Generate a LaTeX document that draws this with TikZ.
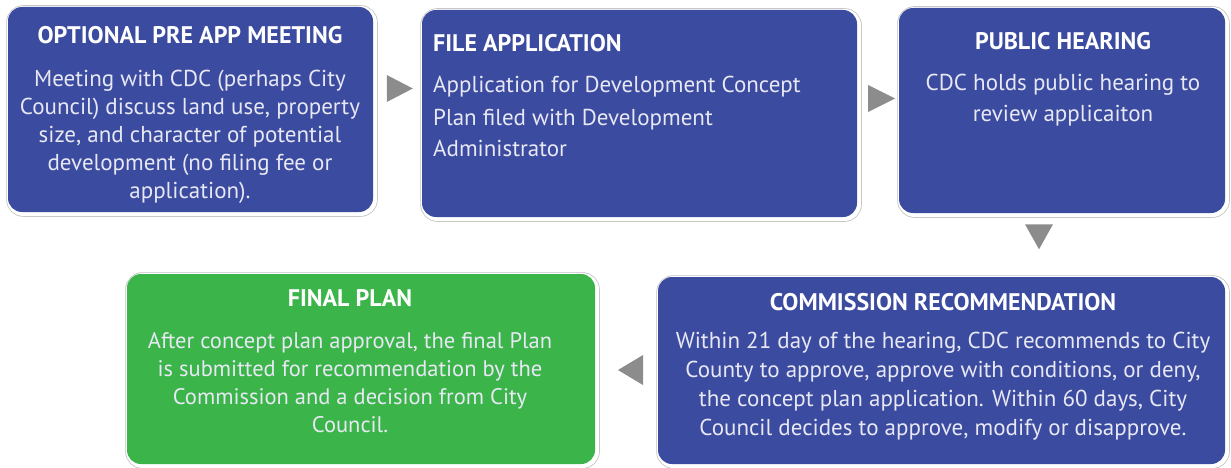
\documentclass[tikz,border=0pt]{standalone}
\usepackage{fontspec}
\setmainfont{PT Sans}
\usetikzlibrary{shapes.geometric}
\definecolor{boxblue}{RGB}{59,75,160}
\definecolor{boxgreen}{RGB}{59,181,74}
\definecolor{arrgray}{RGB}{140,140,140}
\definecolor{bodytxt}{RGB}{232,232,244}
\tikzset{
  stepbox/.style={rectangle, rounded corners=14pt, inner sep=0pt, draw=none,
    preaction={draw=black!25, line width=6.5pt, transform canvas={shift={(1.5pt,-1.5pt)}}},
    preaction={draw=white, line width=5pt, transform canvas={shift={(1.5pt,-1.5pt)}}}},
  bluebox/.style={stepbox, fill=boxblue},
  greenbox/.style={stepbox, fill=boxgreen},
  head/.style={text=white, inner sep=0pt, anchor=base, font=\fontsize{24}{28}\selectfont\bfseries},
  body/.style={text=bodytxt, inner sep=0pt, anchor=base, font=\fontsize{23}{28}\selectfont},
  tri/.style={isosceles triangle, isosceles triangle stretches, fill=arrgray, inner sep=0pt, draw=none}
}
\begin{document}
\begin{tikzpicture}[x=1pt,y=-1pt]
\useasboundingbox (0,0) rectangle (1231,468);
% boxes
\node[bluebox, minimum width=365pt, minimum height=205pt] (b1) at (190.5,109.5) {};
\node[bluebox, minimum width=435pt, minimum height=207pt] (b2) at (639.5,113.5) {};
\node[bluebox, minimum width=326pt, minimum height=205pt] (b3) at (1062,110.5) {};
\node[bluebox, minimum width=567pt, minimum height=187pt] (b5) at (941.5,370.5) {};
\node[greenbox, minimum width=468pt, minimum height=190pt] (b4) at (361,369) {};
% texts (body nodes are placed at the baseline of their last line)
\node[head] (h1) at (190,44) {OPTIONAL PRE APP MEETING};
\node[body, align=center] (t1) at (190,198) {Meeting with CDC (perhaps City\\Council) discuss land use, property\\size, and character of potential\\development (no filing fee or\\application).};
\node[head, anchor=base west] (h2) at (433,52) {FILE APPLICATION};
\node[body, anchor=base west, align=left, font=\fontsize{23}{32}\selectfont] (t2) at (433,157) {Application for Development Concept\\Plan filed with Development\\Administrator};
\node[head] (h3) at (1063,50) {PUBLIC HEARING};
\node[body, align=center, font=\fontsize{23}{32}\selectfont] (t3) at (1063,122) {CDC holds public hearing to\\review applicaiton};
\node[head] (h5) at (943,310) {COMMISSION RECOMMENDATION};
\node[body, align=center, font=\fontsize{23}{29}\selectfont] (t5) at (943,435) {Within 21 day of the hearing, CDC recommends to City\\County to approve, approve with conditions, or deny,\\the concept plan application. Within 60 days, City\\Council decides to approve, modify or disapprove.};
\node[head] (h4) at (350,306) {FINAL PLAN};
\node[body, align=center, font=\fontsize{22.5}{28}\selectfont] (t4) at (350,432) {After concept plan approval, the final Plan\\is submitted for recommendation by the\\Commission and a decision from City\\Council.};
% arrows
\node[tri, minimum height=26pt, minimum width=27pt, shape border rotate=0] (a1) at (395,88.5) {};
\node[tri, minimum height=27pt, minimum width=27pt, shape border rotate=0] (a2) at (876.5,98.5) {};
\node[tri, minimum height=25pt, minimum width=28pt, shape border rotate=270] (a3) at (1039,232.5) {};
\node[tri, minimum height=25pt, minimum width=30pt, shape border rotate=180] (a4) at (634.5,370) {};
\end{tikzpicture}
\end{document}
